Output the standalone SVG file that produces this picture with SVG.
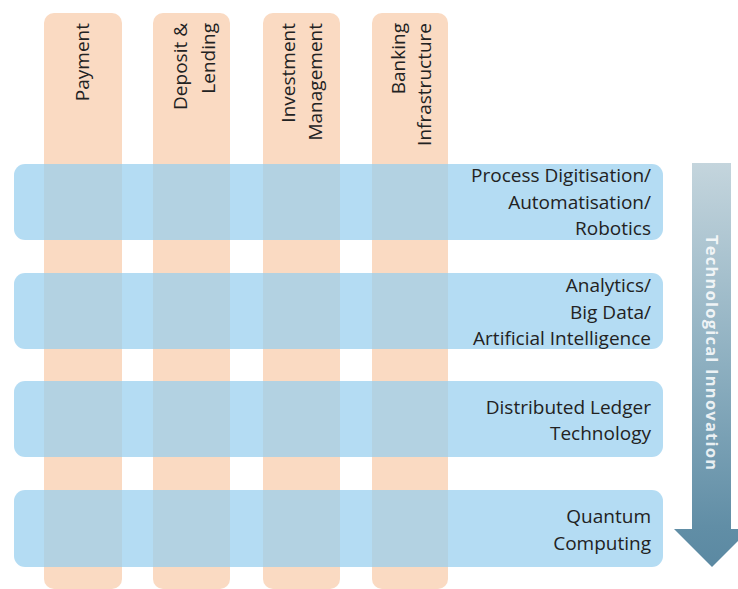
<svg xmlns="http://www.w3.org/2000/svg" width="738" height="589" viewBox="0 0 738 589">
  <defs>
    <linearGradient id="arrowGrad" x1="0" y1="163" x2="0" y2="567" gradientUnits="userSpaceOnUse">
      <stop offset="0" stop-color="#C4D5DD"/>
      <stop offset="0.5" stop-color="#8DAFC0"/>
      <stop offset="0.9" stop-color="#618EA6"/>
      <stop offset="1" stop-color="#5B89A2"/>
    </linearGradient>
  </defs>
  <style>
    .col { fill: #FADAC2; }
    .band { fill: rgb(151,206,238); fill-opacity: 0.72; }
    .lbl { font-family: "Open Sans", "Noto Sans", sans-serif; font-size: 19px; fill: #222222; }
    .colLbl { text-anchor: end; }
    .bandLbl { text-anchor: end; }
    .arrowLbl { font-family: "Open Sans", "Liberation Sans", sans-serif; font-size: 16.5px; font-weight: bold; fill: #FFFFFF; fill-opacity: 0.85; text-anchor: middle; }
  </style>
  <rect width="738" height="589" fill="#FFFFFF"/>

  <g id="col-payment">
    <rect class="col" x="44" y="13" width="78" height="576" rx="10"/>
    <text class="lbl colLbl" transform="translate(89,23) rotate(-90)">Payment</text>
  </g>
  <g id="col-deposit">
    <rect class="col" x="153" y="13" width="77" height="576" rx="10"/>
    <text class="lbl colLbl" transform="translate(187,23) rotate(-90)">Deposit &amp;</text>
    <text class="lbl colLbl" transform="translate(215,23) rotate(-90)">Lending</text>
  </g>
  <g id="col-investment">
    <rect class="col" x="263" y="13" width="77" height="576" rx="10"/>
    <text class="lbl colLbl" transform="translate(295,23) rotate(-90)">Investment</text>
    <text class="lbl colLbl" transform="translate(322,23) rotate(-90)">Management</text>
  </g>
  <g id="col-banking">
    <rect class="col" x="372" y="13" width="76" height="576" rx="10"/>
    <text class="lbl colLbl" transform="translate(405,23) rotate(-90)">Banking</text>
    <text class="lbl colLbl" transform="translate(431,23) rotate(-90)">Infrastructure</text>
  </g>

  <g id="band-process">
    <rect class="band" x="14" y="164" width="649" height="76" rx="11"/>
    <text class="lbl bandLbl" x="651" y="182">Process Digitisation/</text>
    <text class="lbl bandLbl" x="651" y="208.5">Automatisation/</text>
    <text class="lbl bandLbl" x="651" y="235">Robotics</text>
  </g>
  <g id="band-analytics">
    <rect class="band" x="14" y="273" width="649" height="76" rx="11"/>
    <text class="lbl bandLbl" x="651" y="292">Analytics/</text>
    <text class="lbl bandLbl" x="651" y="318.5">Big Data/</text>
    <text class="lbl bandLbl" x="651" y="345">Artificial Intelligence</text>
  </g>
  <g id="band-dlt">
    <rect class="band" x="14" y="381" width="649" height="76" rx="11"/>
    <text class="lbl bandLbl" x="651" y="414">Distributed Ledger</text>
    <text class="lbl bandLbl" x="651" y="440">Technology</text>
  </g>
  <g id="band-quantum">
    <rect class="band" x="14" y="490" width="649" height="77" rx="11"/>
    <text class="lbl bandLbl" x="651" y="523">Quantum</text>
    <text class="lbl bandLbl" x="651" y="549.5">Computing</text>
  </g>

  <g id="arrow-innovation">
    <path d="M692,163 H731 V529 H750 L712,567 L674,529 H692 Z" fill="url(#arrowGrad)"/>
    <text class="arrowLbl" transform="translate(705.5,352.5) rotate(90)" textLength="235" lengthAdjust="spacing">Technological Innovation</text>
  </g>
</svg>
